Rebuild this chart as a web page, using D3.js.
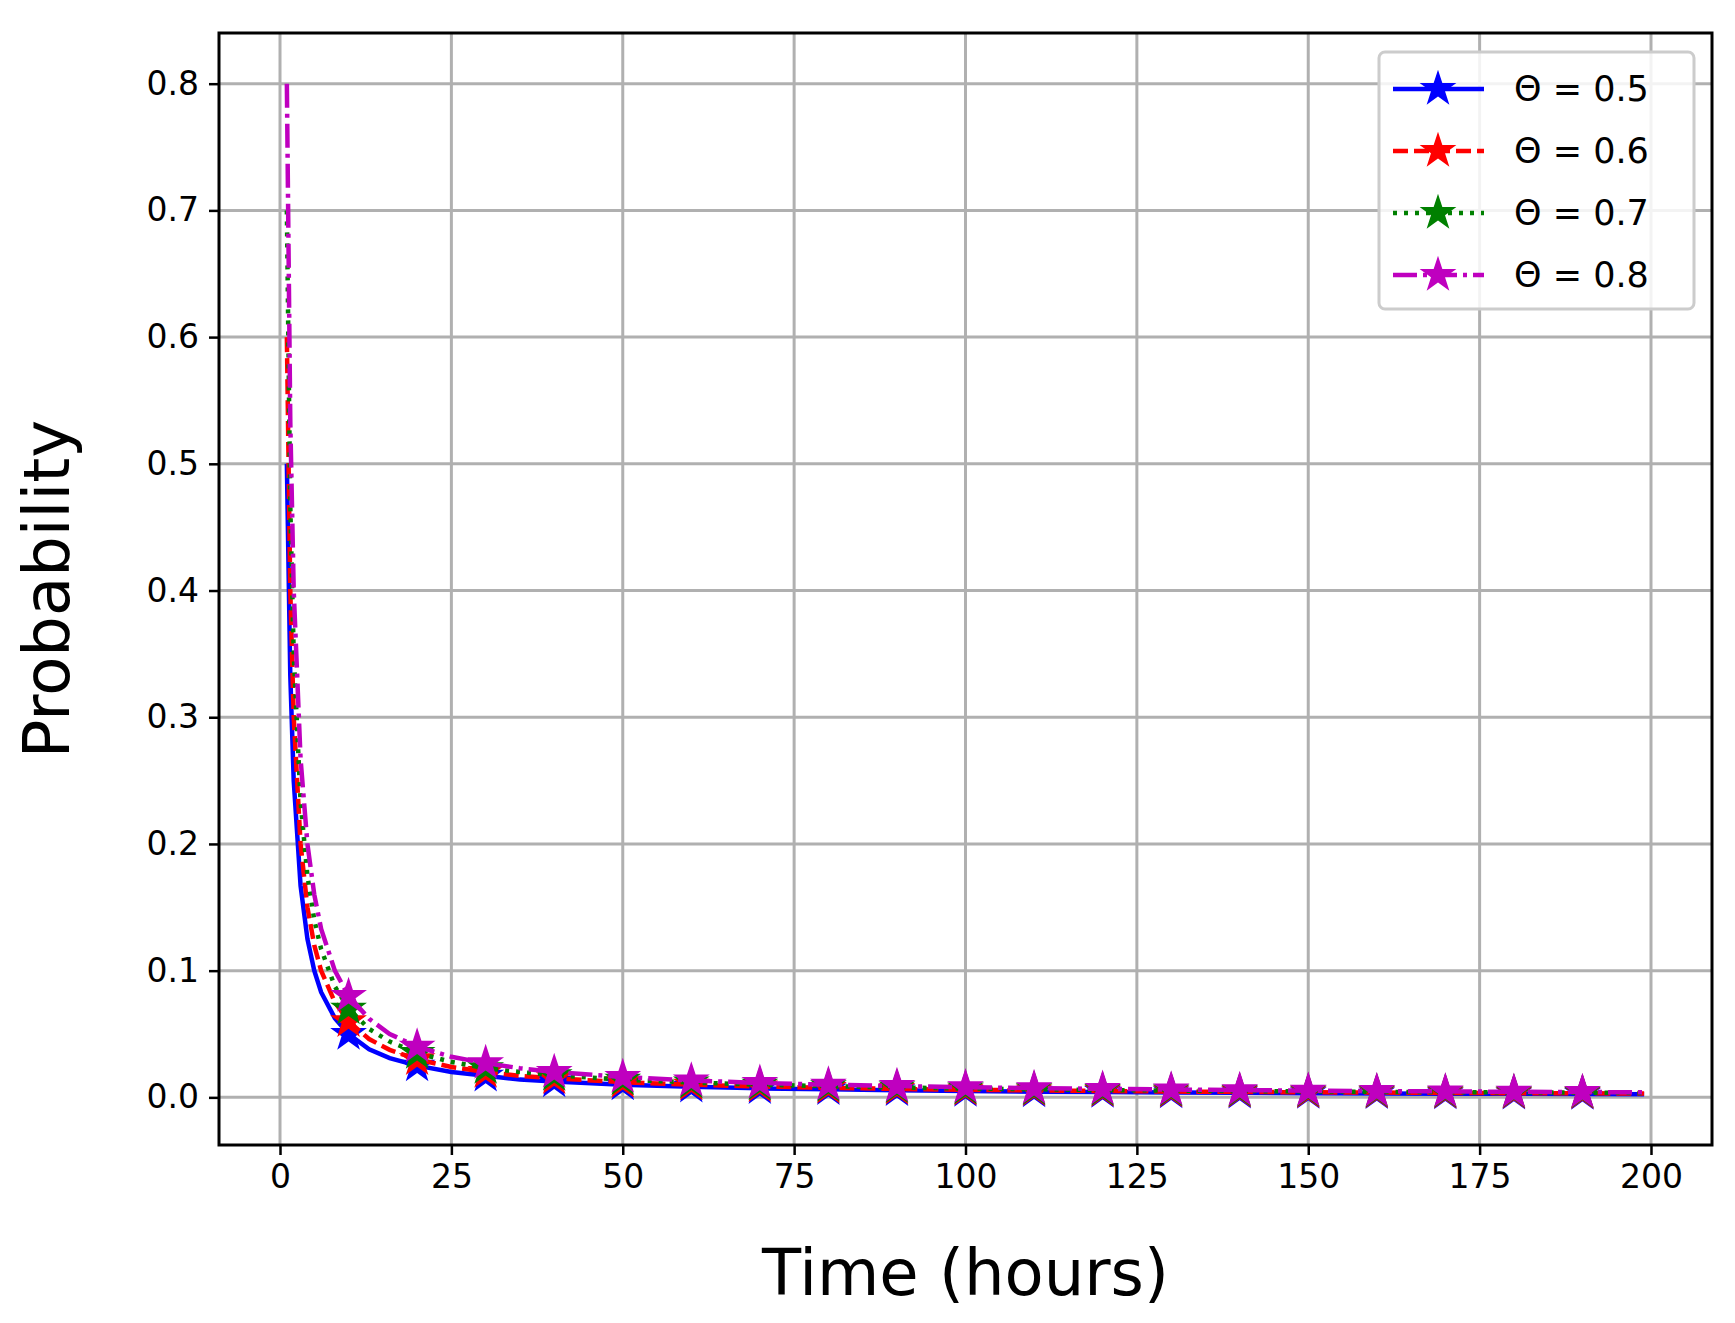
<!DOCTYPE html>
<html>
<head>
<meta charset="utf-8">
<script src="https://cdn.jsdelivr.net/npm/d3@7"></script>
<style>
  body { margin: 0; background: #fff; }
  text { font-family: "DejaVu Sans", sans-serif; }
</style>
</head>
<body>
<svg id="chart" width="1735" height="1323"></svg>
<script>
// Time points (hours)
const times = [1, 1.5, 2, 3, 4, 5, 6, 8, 10, 13, 16, 20, 25, 30, 35, 40, 50, 60, 70, 80, 90, 100, 110, 120, 130, 140, 150, 160, 170, 180, 190, 199];
const markerTimes = [10, 20, 30, 40, 50, 60, 70, 80, 90, 100, 110, 120, 130, 140, 150, 160, 170, 180, 190];

const theta05 = [0.5, 0.333, 0.25, 0.167, 0.125, 0.1, 0.083, 0.0625, 0.05, 0.038, 0.031, 0.025, 0.02, 0.017, 0.014, 0.0125, 0.01, 0.0083, 0.0071, 0.0063, 0.0056, 0.005, 0.0045, 0.0042, 0.0038, 0.0036, 0.0033, 0.0031, 0.0029, 0.0028, 0.0026, 0.0025];
const theta06 = [0.6, 0.4, 0.3, 0.2, 0.15, 0.12, 0.1, 0.075, 0.06, 0.046, 0.0375, 0.03, 0.024, 0.02, 0.017, 0.015, 0.012, 0.01, 0.0086, 0.0075, 0.0067, 0.006, 0.0055, 0.005, 0.0046, 0.0043, 0.004, 0.0038, 0.0035, 0.0033, 0.0032, 0.003];
const theta07 = [0.7, 0.467, 0.35, 0.233, 0.175, 0.14, 0.117, 0.0875, 0.07, 0.054, 0.044, 0.035, 0.028, 0.023, 0.02, 0.0175, 0.014, 0.0117, 0.01, 0.0088, 0.0078, 0.007, 0.0064, 0.0058, 0.0054, 0.005, 0.0047, 0.0044, 0.0041, 0.0039, 0.0037, 0.0035];
const theta08 = [0.8, 0.533, 0.4, 0.267, 0.2, 0.16, 0.133, 0.1, 0.08, 0.062, 0.05, 0.04, 0.032, 0.027, 0.023, 0.02, 0.016, 0.0133, 0.0114, 0.01, 0.0089, 0.008, 0.0073, 0.0067, 0.0062, 0.0057, 0.0053, 0.005, 0.0047, 0.0044, 0.0042, 0.004];

const labels = ['Θ = 0.5', 'Θ = 0.6', 'Θ = 0.7', 'Θ = 0.8'];
const xTicks = [0, 25, 50, 75, 100, 125, 150, 175, 200];
const yTicks = [0, 0.1, 0.2, 0.3, 0.4, 0.5, 0.6, 0.7, 0.8];

const series = [
  { name: labels[0], values: theta05, color: '#0000ff', dash: null },
  { name: labels[1], values: theta06, color: '#ff0000', dash: '15,6' },
  { name: labels[2], values: theta07, color: '#008000', dash: '4,7' },
  { name: labels[3], values: theta08, color: '#bf00bf', dash: '24,6,4,6' }
];

const margin = { top: 33, right: 23, bottom: 178, left: 219 };
const width = 1735 - margin.left - margin.right;
const height = 1323 - margin.top - margin.bottom;

const svg = d3.select('#chart')
  .append('g')
  .attr('transform', `translate(${margin.left},${margin.top})`);

const x = d3.scaleLinear().domain([-8.9, 208.9]).range([0, width]);
const y = d3.scaleLinear().domain([-0.0376, 0.84]).range([height, 0]);

// Grid
svg.append('g').selectAll('line').data(xTicks).enter().append('line')
  .attr('x1', d => x(d)).attr('x2', d => x(d))
  .attr('y1', 0).attr('y2', height)
  .attr('stroke', '#b0b0b0').attr('stroke-width', 3);
svg.append('g').selectAll('line').data(yTicks).enter().append('line')
  .attr('y1', d => y(d)).attr('y2', d => y(d))
  .attr('x1', 0).attr('x2', width)
  .attr('stroke', '#b0b0b0').attr('stroke-width', 3);

// Axes
const xAxis = svg.append('g')
  .attr('transform', `translate(0,${height})`)
  .call(d3.axisBottom(x).tickValues(xTicks).tickSize(10).tickPadding(10).tickSizeOuter(0));
const yAxis = svg.append('g')
  .call(d3.axisLeft(y).tickValues(yTicks).tickFormat(d3.format('.1f')).tickSize(10).tickPadding(10).tickSizeOuter(0));
[xAxis, yAxis].forEach(a => {
  a.select('.domain').remove();
  a.selectAll('line').attr('stroke-width', 2.5);
  a.selectAll('text').style('font-size', '33px').attr('fill', '#000');
});

// Lines
const line = d3.line()
  .x((d, i) => x(times[i]))
  .y(d => y(d));

const star = d3.symbol().type(d3.symbolStar).size(420);

series.forEach(s => {
  svg.append('path')
    .datum(s.values)
    .attr('d', line)
    .attr('fill', 'none')
    .attr('stroke', s.color)
    .attr('stroke-width', 4.5)
    .attr('stroke-dasharray', s.dash);
  const pts = markerTimes.map(t => ({ t: t, v: s.values[times.indexOf(t)] }));
  svg.append('g').selectAll('path').data(pts).enter().append('path')
    .attr('d', star)
    .attr('transform', d => `translate(${x(d.t)},${y(d.v)})`)
    .attr('fill', s.color);
});

// Frame
svg.append('rect')
  .attr('width', width).attr('height', height)
  .attr('fill', 'none').attr('stroke', '#000').attr('stroke-width', 3);

// Legend
const legend = svg.append('g').attr('transform', `translate(${1379 - margin.left},${52 - margin.top})`);
legend.append('rect')
  .attr('width', 315).attr('height', 257).attr('rx', 6)
  .attr('fill', 'rgba(255,255,255,0.85)').attr('stroke', '#cccccc').attr('stroke-width', 3);
series.forEach((s, i) => {
  const g = legend.append('g').attr('transform', `translate(0,${37 + i * 62})`);
  g.append('line')
    .attr('x1', 14).attr('x2', 105).attr('y1', 0).attr('y2', 0)
    .attr('stroke', s.color).attr('stroke-width', 4.5)
    .attr('stroke-dasharray', s.dash);
  g.append('path').attr('d', star).attr('transform', 'translate(59,0)').attr('fill', s.color);
  g.append('text').attr('x', 135).attr('y', 12)
    .style('font-size', '35px').text(s.name);
});

// Axis labels
svg.append('text')
  .attr('x', x(100)).attr('y', height + 150)
  .attr('text-anchor', 'middle').style('font-size', '64px')
  .text('Time (hours)');
svg.append('text')
  .attr('transform', `translate(-150,${height / 2}) rotate(-90)`)
  .attr('text-anchor', 'middle').style('font-size', '64px')
  .text('Probability');
</script>
</body>
</html>
